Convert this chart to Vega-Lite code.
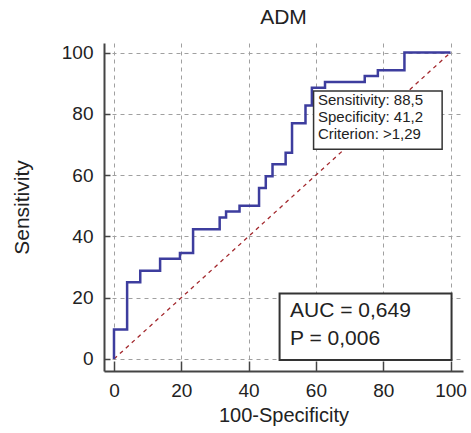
{
  "$schema": "https://vega.github.io/schema/vega-lite/v6.json",
  "autosize": "none",
  "padding": {"left": 104, "top": 43, "right": 8, "bottom": 62},
  "width": 359,
  "height": 328,
  "background": "white",
  "title": {
    "text": "ADM",
    "font": "Liberation Sans",
    "fontSize": 21,
    "fontWeight": "normal",
    "color": "#222222",
    "offset": 15
  },
  "config": {
    "view": {"stroke": null},
    "font": "Liberation Sans"
  },
  "datasets": {
    "roc": [
      {"fpr": 0, "sens": 0},
      {"fpr": 0, "sens": 9.6},
      {"fpr": 3.9, "sens": 25.0},
      {"fpr": 7.8, "sens": 28.8},
      {"fpr": 13.7, "sens": 32.7},
      {"fpr": 19.6, "sens": 34.6},
      {"fpr": 23.5, "sens": 42.3},
      {"fpr": 31.4, "sens": 46.2},
      {"fpr": 33.3, "sens": 48.1},
      {"fpr": 37.3, "sens": 50.0},
      {"fpr": 43.1, "sens": 55.8},
      {"fpr": 45.1, "sens": 59.6},
      {"fpr": 47.1, "sens": 63.5},
      {"fpr": 51.0, "sens": 67.3},
      {"fpr": 52.9, "sens": 76.9},
      {"fpr": 56.9, "sens": 82.7},
      {"fpr": 58.8, "sens": 88.5},
      {"fpr": 62.7, "sens": 90.4},
      {"fpr": 74.5, "sens": 92.3},
      {"fpr": 78.4, "sens": 94.2},
      {"fpr": 86.3, "sens": 100},
      {"fpr": 100, "sens": 100}
    ],
    "chance": [
      {"fpr": 0, "sens": 0},
      {"fpr": 100, "sens": 100}
    ]
  },
  "layer": [
    {
      "data": {"name": "chance"},
      "mark": {"type": "line", "color": "#a3282d", "strokeWidth": 1.3, "strokeDash": [4, 4]},
      "encoding": {
        "x": {
          "field": "fpr",
          "type": "quantitative",
          "scale": {"domain": [-2.97, 103.7], "nice": false, "zero": false},
          "axis": {
            "title": "100-Specificity",
            "titleFont": "Liberation Sans",
            "titleFontSize": 20,
            "titleFontWeight": "normal",
            "titleColor": "#222222",
            "titlePadding": 5,
            "values": [0, 5, 10, 15, 20, 25, 30, 35, 40, 45, 50, 55, 60, 65, 70, 75, 80, 85, 90, 95, 100],
            "labelExpr": "datum.value % 20 === 0 ? datum.label : ''",
            "labelFont": "Liberation Sans",
            "labelFontSize": 19,
            "labelColor": "#222222",
            "labelPadding": 20,
            "labelFlush": false,
            "labelOverlap": false,
            "domainColor": "#444444",
            "domainWidth": 2,
            "tickColor": "#444444",
            "tickWidth": 1.5,
            "tickSize": {"condition": {"test": "datum.value % 20 === 0", "value": -10}, "value": -5},
            "grid": true,
            "gridColor": "#a0a0a0",
            "gridDash": [4, 4],
            "gridWidth": 1,
            "gridOpacity": {"condition": {"test": "datum.value % 20 === 0", "value": 1}, "value": 0}
          }
        },
        "y": {
          "field": "sens",
          "type": "quantitative",
          "scale": {"domain": [-3.92, 103.1], "nice": false, "zero": false},
          "axis": {
            "title": "Sensitivity",
            "titleFont": "Liberation Sans",
            "titleFontSize": 21,
            "titleFontWeight": "normal",
            "titleColor": "#222222",
            "titlePadding": 29,
            "values": [0, 5, 10, 15, 20, 25, 30, 35, 40, 45, 50, 55, 60, 65, 70, 75, 80, 85, 90, 95, 100],
            "labelExpr": "datum.value % 20 === 0 ? datum.label : ''",
            "labelFont": "Liberation Sans",
            "labelFontSize": 19,
            "labelColor": "#222222",
            "labelPadding": 17,
            "labelFlush": false,
            "labelOverlap": false,
            "domainColor": "#444444",
            "domainWidth": 2,
            "tickColor": "#444444",
            "tickWidth": 1.5,
            "tickSize": -6,
            "grid": true,
            "gridColor": "#a0a0a0",
            "gridDash": [4, 4],
            "gridWidth": 1,
            "gridOpacity": {"condition": {"test": "datum.value % 20 === 0", "value": 1}, "value": 0}
          }
        }
      }
    },
    {
      "data": {"name": "roc"},
      "mark": {"type": "line", "interpolate": "step-after", "color": "#3d3d9e", "strokeWidth": 2.5},
      "encoding": {
        "x": {"field": "fpr", "type": "quantitative"},
        "y": {"field": "sens", "type": "quantitative"},
        "order": [{"field": "fpr"}, {"field": "sens"}]
      }
    },
    {
      "data": {"values": [{}]},
      "mark": {"type": "rect", "fill": "white", "stroke": "#333333", "strokeWidth": 1.5},
      "encoding": {
        "x": {"datum": 59.3, "type": "quantitative"},
        "x2": {"datum": 97.5},
        "y": {"datum": 87.4, "type": "quantitative"},
        "y2": {"datum": 68.4}
      }
    },
    {
      "data": {"values": [{}]},
      "mark": {
        "type": "text",
        "text": ["Sensitivity: 88,5", "Specificity: 41,2", "Criterion: >1,29"],
        "font": "Liberation Sans",
        "fontSize": 15,
        "lineHeight": 17,
        "align": "left",
        "baseline": "alphabetic",
        "color": "#222222"
      },
      "encoding": {
        "x": {"datum": 60.6, "type": "quantitative"},
        "y": {"datum": 82.9, "type": "quantitative"}
      }
    },
    {
      "data": {"values": [{}]},
      "mark": {"type": "rect", "fill": "white", "stroke": "#333333", "strokeWidth": 2},
      "encoding": {
        "x": {"datum": 49.2, "type": "quantitative"},
        "x2": {"datum": 100.3},
        "y": {"datum": 21.4, "type": "quantitative"},
        "y2": {"datum": -0.3}
      }
    },
    {
      "data": {"values": [{}]},
      "mark": {
        "type": "text",
        "text": ["AUC = 0,649", "P = 0,006"],
        "font": "Liberation Sans",
        "fontSize": 21,
        "lineHeight": 28,
        "align": "left",
        "baseline": "alphabetic",
        "color": "#222222"
      },
      "encoding": {
        "x": {"datum": 52.3, "type": "quantitative"},
        "y": {"datum": 13.8, "type": "quantitative"}
      }
    }
  ]
}
